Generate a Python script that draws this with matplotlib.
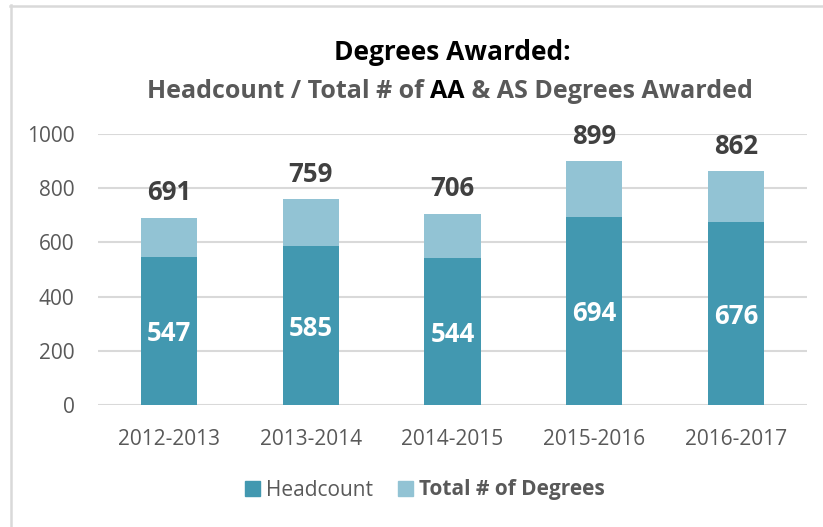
import matplotlib.pyplot as plt
from matplotlib.patches import Patch
from matplotlib.lines import Line2D

plt.rcParams['font.family'] = ['Open Sans', 'DejaVu Sans']

years = ['2012-2013', '2013-2014', '2014-2015', '2015-2016', '2016-2017']
headcount = [547, 585, 544, 694, 676]
total_degrees = [691, 759, 706, 899, 862]

dark_teal = '#4298b0'
light_teal = '#92c3d4'
gray_text = '#595959'
grid_gray = '#d9d9d9'

fig = plt.figure(figsize=(8.23, 5.27), dpi=100)
W, H = 823, 527
ax = fig.add_axes([98 / W, (H - 405) / H, (807 - 98) / W, (405 - 134) / H])

x = range(len(years))
bar_w = 0.395
ax.bar(x, total_degrees, width=bar_w, color=light_teal, zorder=2)
ax.bar(x, headcount, width=bar_w, color=dark_teal, zorder=3)

for i in x:
    ax.annotate(str(total_degrees[i]), (i, total_degrees[i]), xytext=(0, 18),
                textcoords='offset points', ha='center', va='center',
                fontsize=18.5, fontweight='bold', color='#404040')
    ax.annotate(str(headcount[i]), (i, headcount[i] / 2), xytext=(0, -2),
                textcoords='offset points', ha='center', va='center',
                fontsize=18.5, fontweight='bold', color='white', zorder=4)

ax.set_xlim(-0.5, len(years) - 0.5)
ax.set_ylim(0, 1000)
ax.set_yticks(range(0, 1001, 200))
ax.set_xticks(list(x))
ax.set_xticklabels(years)
ax.tick_params(axis='both', length=0, labelsize=15, labelcolor=gray_text)
ax.tick_params(axis='y', pad=17)
ax.tick_params(axis='x', pad=17)
ax.grid(axis='y', color=grid_gray, linewidth=1.5, zorder=0)
ax.set_axisbelow(True)
for s in ax.spines.values():
    s.set_visible(False)

# title
fig.text(452 / W, 1 - 52 / H, 'Degrees Awarded:', ha='center', va='center',
         fontsize=19, fontweight='bold', color='black')

# subtitle with mixed colours
pieces = [('Headcount / Total # of ', gray_text), ('AA', 'black'),
          (' & AS Degrees Awarded', gray_text)]
renderer = fig.canvas.get_renderer()
texts = []
for s, c in pieces:
    t = fig.text(0, 1 - 92 / H, s, ha='left', va='center', fontsize=18,
                 fontweight='bold', color=c)
    texts.append(t)
widths = [t.get_window_extent(renderer).width for t in texts]
start = 450 - sum(widths) / 2
for t, w in zip(texts, widths):
    t.set_x(start / W)
    start += w

handles = [Patch(color=dark_teal, label='Headcount'),
           Patch(color=light_teal, label='Total # of Degrees')]
leg = fig.legend(handles=handles, loc='center', bbox_to_anchor=(425 / W, 1 - 490 / H),
                 ncol=2, frameon=False, fontsize=15, handlelength=0.7,
                 handleheight=0.7, handletextpad=0.3, columnspacing=1.2)
for t in leg.get_texts():
    t.set_color(gray_text)
leg.get_texts()[1].set_fontweight('bold')

# chart border (left and top)
fig.add_artist(Line2D([10.5 / W, 10.5 / W], [0, 1 - 5 / H], color=grid_gray, linewidth=1.8))
fig.add_artist(Line2D([10 / W, 822 / W], [1 - 5.5 / H, 1 - 5.5 / H], color=grid_gray, linewidth=1.8))

fig.savefig('out.png', dpi=100)
